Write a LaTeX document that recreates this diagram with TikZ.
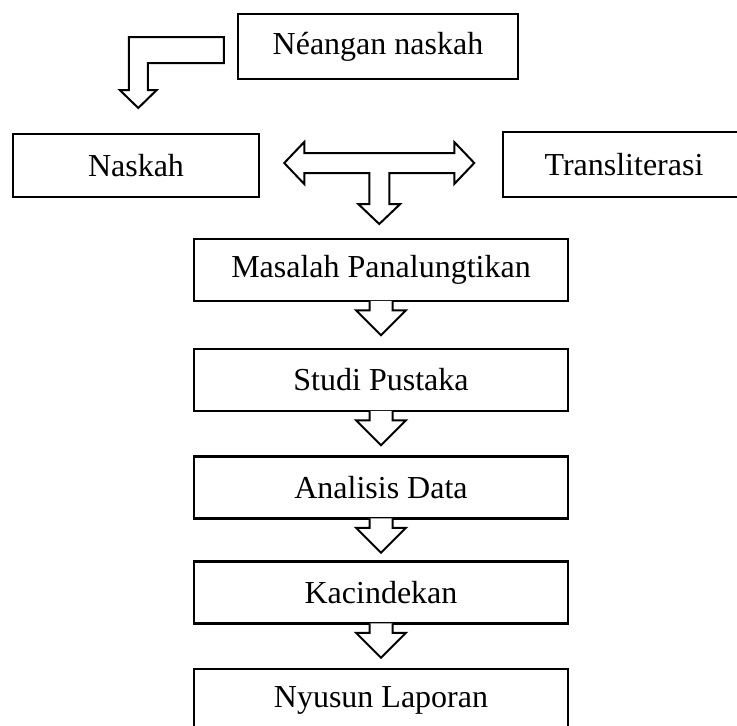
\documentclass[tikz,border=0pt]{standalone}
\usepackage{fontspec}
\setmainfont{Liberation Serif}
\usetikzlibrary{calc}

% hollow arrow hanging under a box
\newcommand{\flowdown}[1]{%
  \draw[blockarrow] ($(#1.south)+(-11.5,-1.5)$) -- ++(0,9.5) -- ++(-13.5,0)
    -- ++(25,25) -- ++(25,-25) -- ++(-13.5,0) -- ++(0,-9.5);}

\begin{document}
\begin{tikzpicture}
  [x=1pt, y=-1pt,
   box/.style={rectangle, draw, line width=2.5pt, inner sep=0pt,
     minimum height=62pt, font=\fontsize{32}{38}\selectfont},
   step box/.style={box, minimum width=374pt},
   blockarrow/.style={draw, fill=white, line width=2pt, line join=miter}]

  \clip (0,0) rectangle (737,726);

  \node[box, minimum width=280pt, minimum height=65pt] (neangan) at (378,46.5) {Néangan naskah};
  \node[box, minimum width=246pt, minimum height=63pt] (naskah) at (136,165.5) {Naskah};
  \node[box, minimum width=242pt, minimum height=65pt] (translit) at (624,164.5) {Transliterasi};

  \node[step box] (masalah) at (381,270) {Masalah Panalungtikan};
  \node[step box] (studi) at (381,380) {Studi Pustaka};
  \node[step box] (analisis) at (381,487.5) {Analisis Data};
  \node[step box] (kacindekan) at (381,592.5) {Kacindekan};
  \node[step box] (nyusun) at (381,700) {Nyusun Laporan};

  % elbow from the search box down to the manuscript
  \draw[blockarrow] ($(neangan.west)+(-13,-9.5)$) -- ++(-95,0) -- ++(0,53)
    -- ++(-9,0) -- ++(18.5,18) -- ++(18.5,-18) -- ++(-9,0) -- ++(0,-27)
    -- ++(76,0) -- cycle;

  % two way arrow with a stem
  \draw[blockarrow] ($(naskah.east)+(24,-2.5)$) -- ++(20,-21) -- ++(0,11)
    -- ++(150,0) -- ++(0,-11) -- ++(20,21) -- ++(-20,21) -- ++(0,-11)
    -- ++(-65,0) -- ++(0,31) -- ++(11,0) -- ++(-21,20) -- ++(-21,-20)
    -- ++(11,0) -- ++(0,-31) -- ++(-65,0) -- ++(0,11) -- cycle;

  \flowdown{masalah}
  \flowdown{studi}
  \flowdown{analisis}
  \flowdown{kacindekan}

\end{tikzpicture}
\end{document}
